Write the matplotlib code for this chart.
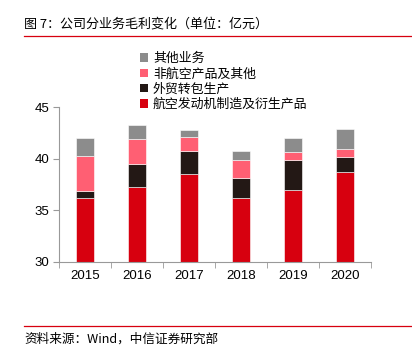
import matplotlib
matplotlib.use("Agg")
import matplotlib.pyplot as plt
import numpy as np
from matplotlib.patches import Patch
from matplotlib.lines import Line2D

plt.rcParams['font.family'] = ['Noto Sans CJK SC', 'DejaVu Sans']

years = ['2015', '2016', '2017', '2018', '2019', '2020']
aero = [36.2, 37.3, 38.5, 36.2, 37.0, 38.7]
trade = [0.7, 2.2, 2.2, 1.9, 2.85, 1.5]
nonaero = [3.4, 2.4, 1.4, 1.8, 0.75, 0.7]
other = [1.7, 1.4, 0.65, 0.8, 1.4, 1.95]

series_names = ['航空发动机制造及衍生产品', '外贸转包生产', '非航空产品及其他', '其他业务']
colors = ['#D7000F', '#231815', '#FF5F73', '#8C8C8C']
yticks = [30, 35, 40, 45]

W, H = 412, 348
fig = plt.figure(figsize=(W / 100, H / 100), dpi=100)
ax = fig.add_axes([59 / W, 1 - 262 / H, (371 - 59) / W, (262 - 107) / H])

x = np.arange(len(years))
base = 30.0
bottoms = np.zeros(len(years))
data = [aero, trade, nonaero, other]
for vals, c in zip(data, colors):
    v = np.array(vals)
    start = np.where(bottoms == 0, base, bottoms)
    heights = np.where(bottoms == 0, v - base, v)
    ax.bar(x, heights, bottom=start, width=0.33, color=c, edgecolor='white', linewidth=0.4)
    bottoms = start + heights

ax.set_xlim(-0.5, len(years) - 0.5)
ax.set_ylim(30, 45)
ax.set_yticks(yticks)
ax.set_yticklabels([str(t) for t in yticks], fontsize=9.5, family='Liberation Sans')
ax.set_xticks(x)
ax.set_xticklabels(years, fontsize=9.5, family='Liberation Sans')
ax.set_xticks(np.arange(len(years) + 1) - 0.5, minor=True)
ax.tick_params(axis='x', which='major', length=0, pad=6)
ax.tick_params(axis='x', which='minor', length=4, color='#999999', direction='out')
ax.tick_params(axis='y', length=4, color='#999999', direction='out', pad=3)
for s in ['top', 'right']:
    ax.spines[s].set_visible(False)
for s in ['left', 'bottom']:
    ax.spines[s].set_color('#999999')
    ax.spines[s].set_linewidth(0.8)

handles = [Patch(facecolor=c, edgecolor='none') for c in colors[::-1]]
fig.legend(handles, series_names[::-1], loc='upper left', bbox_to_anchor=(140 / W, 1 - 52 / H),
           frameon=False, fontsize=9.3, handlelength=0.6, handleheight=0.6, handletextpad=0.4,
           labelspacing=0.18, borderaxespad=0, borderpad=0)

fig.text(24 / W, 1 - 24 / H, '图 7：公司分业务毛利变化（单位：亿元）', fontsize=9.4, va='center', ha='left')
fig.add_artist(Line2D([24 / W, 1], [1 - 36 / H, 1 - 36 / H], color='#D7000F', linewidth=0.9))
fig.add_artist(Line2D([24 / W, 1], [1 - 326 / H, 1 - 326 / H], color='#D7000F', linewidth=0.9))
fig.text(24 / W, 1 - 339 / H, '资料来源：Wind，中信证券研究部', fontsize=9.1, va='center', ha='left')

fig.savefig('out.png', dpi=100)
